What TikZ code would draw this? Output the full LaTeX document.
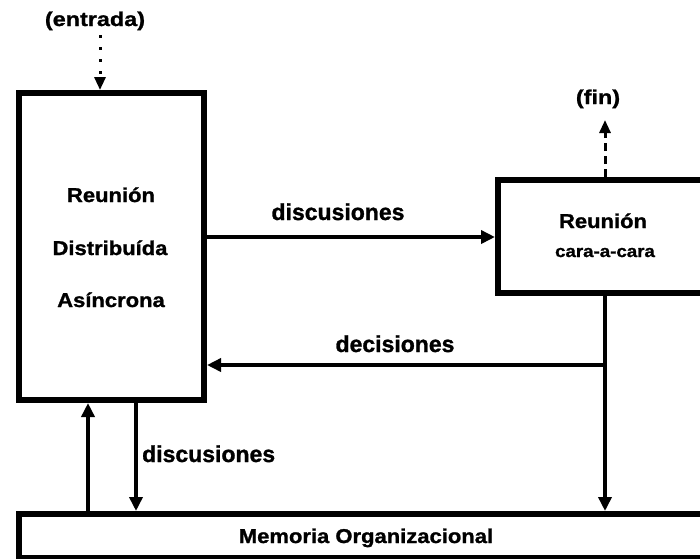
\documentclass[tikz,border=0pt]{standalone}
\usepackage{fontspec}
\setmainfont{Liberation Sans}[FakeBold=1.2]
\newfontfamily\boxfont{Liberation Sans}[FakeStretch=1.1,FakeBold=1.2]
\newfontfamily\parfont{Liberation Sans}[FakeStretch=1.17,FakeBold=1.2]
\usetikzlibrary{arrows.meta}
\begin{document}
\begin{tikzpicture}[x=1pt,y=-1pt,
  every node/.style={inner sep=0pt, anchor=base},
  lbl/.style={font=\bfseries\fontsize{23}{25}\selectfont},
  boxtxt/.style={font=\boxfont\bfseries\fontsize{20}{22}\selectfont},
  partxt/.style={font=\parfont\bfseries\fontsize{20}{22}\selectfont},
  smalltxt/.style={font=\boxfont\bfseries\fontsize{17}{19}\selectfont},
  boxline/.style={line width=6pt, line join=miter},
  flow/.style={line width=3.5pt, -{Triangle[length=14pt,width=13pt]}},
  tip/.style={line width=3pt, -{Triangle[length=13pt,width=11pt]}}]
\useasboundingbox (0,0) rectangle (700,558);
\begin{scope}
\clip (0,0) rectangle (700,558);
% the two meeting boxes and the memory bar
\draw[boxline] (19,93) rectangle (204,400);
\draw[boxline] (498,180) rectangle (712,293);
\draw[boxline] (19,514) rectangle (712,558);
\end{scope}

% texts
\node[partxt] (entrada) at (95,26) {(entrada)};
\node[partxt] (fin) at (598,104) {(fin)};
\node[boxtxt] (r1) at (111,202) {Reunión};
\node[boxtxt] (r2) at (110,255) {Distribuída};
\node[boxtxt] (r3) at (111,307) {Asíncrona};
\node[boxtxt] (c1) at (603,228) {Reunión};
\node[smalltxt] (c2) at (605,257) {cara-a-cara};
\node[lbl] (lab1) at (338,220) {discusiones};
\node[lbl] (lab2) at (395,352) {decisiones};
\node[lbl, anchor=base west] (lab3) at (142,462) {discusiones};
\node[boxtxt] (mem) at (366,543) {Memoria Organizacional};

% entry and exit
\coordinate (ein) at (100,35);
\coordinate (emid) at (100,78);
\coordinate (etop) at (100,90);
\draw[line width=3pt, dash pattern=on 3pt off 9pt] (ein) -- (emid);
\draw[tip] (emid) -- (etop);

\coordinate (ftop) at (605,177);
\coordinate (fmid) at (605,133);
\coordinate (fend) at (605,120);
\draw[line width=3pt, dash pattern=on 8pt off 5pt] (ftop) -- (fmid);
\draw[tip] (fmid) -- (fend);

% flows between the meetings
\coordinate (d1s) at (207,237);
\coordinate (d1e) at (495,237);
\draw[flow] (d1s) -- (d1e);

\coordinate (cbot) at (605,296);
\coordinate (cmid) at (605,365);
\coordinate (dend) at (207,365);
\coordinate (mtop) at (605,511);
\draw[flow] (cmid) -- (dend);
\draw[flow] (cbot) -- (mtop);

% flows to and from the memory
\coordinate (u1) at (88,511);
\coordinate (u2) at (88,403);
\draw[flow] (u1) -- (u2);
\coordinate (dd1) at (136,403);
\coordinate (dd2) at (136,511);
\draw[flow] (dd1) -- (dd2);
\end{tikzpicture}
\end{document}
